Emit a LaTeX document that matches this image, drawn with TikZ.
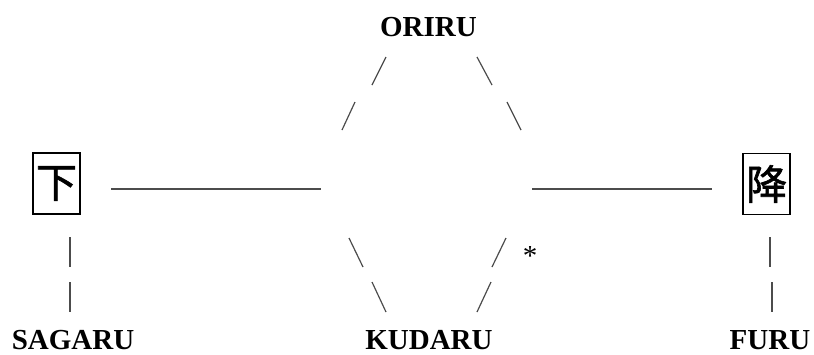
\documentclass[tikz,border=0pt]{standalone}
\usepackage{fontspec}
\setmainfont{Liberation Serif}
\newfontfamily\cjk[FakeBold=1.5]{Noto Sans CJK JP}
\begin{document}
\begin{tikzpicture}[x=1pt,y=-1pt,
  word/.style={font=\fontsize{29}{29}\selectfont\bfseries, anchor=base, inner sep=0pt},
  kanji/.style={draw, line width=1.8pt, font=\fontsize{41}{41}\cjk, inner sep=0pt,
    minimum width=47pt, minimum height=61pt},
  seg/.style={draw=black!70, line width=1.2pt}]
\useasboundingbox (0,0) rectangle (814,354);
\node[word] (oriru) at (428.5,36) {ORIRU};
\node[word] (sagaru) at (73,349) {SAGARU};
\node[word] (kudaru) at (429,349) {KUDARU};
\node[word] (furu) at (770,349) {FURU};
\node[kanji] (shita) at (56.5,183.5) {下};
\node[kanji] (furi) at (766.5,184) {降};
\node[font=\fontsize{29}{29}\selectfont, anchor=base, inner sep=0pt] (ast) at (530,265) {*};
% horizontal
\path[seg] (111,189) -- (321,189);
\path[seg] (532,189) -- (712,189);
% upper slashes
\path[seg] (386,57) -- (372,85);
\path[seg] (355,102) -- (342,130);
\path[seg] (477,57) -- (492,85);
\path[seg] (507,102) -- (521,130);
% lower slashes
\path[seg] (349,238) -- (363,267);
\path[seg] (372,282) -- (386,312);
\path[seg] (506,238) -- (492,267);
\path[seg] (491,282) -- (477,312);
% verticals
\path[seg] (70,237) -- (70,267);
\path[seg] (70,282) -- (70,312);
\path[seg] (770,237) -- (770,267);
\path[seg] (772,282) -- (772,312);
\end{tikzpicture}
\end{document}
